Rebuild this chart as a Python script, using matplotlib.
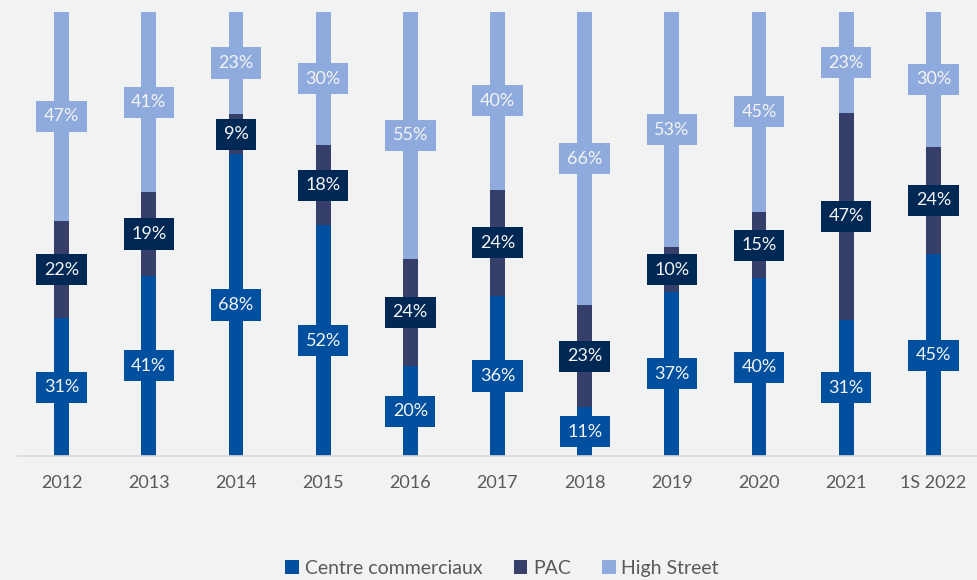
import numpy as np
import matplotlib
matplotlib.use("Agg")
import matplotlib.pyplot as plt

plt.rcParams['font.family'] = ['Lato', 'DejaVu Sans']

# --- data ---
years = ["2012", "2013", "2014", "2015", "2016", "2017", "2018", "2019", "2020", "2021", "1S 2022"]
centre_comm = [31, 41, 68, 52, 20, 36, 11, 37, 40, 31, 45]
pac = [22, 19, 9, 18, 24, 24, 23, 10, 15, 47, 24]
high_street = [47, 41, 23, 30, 55, 40, 66, 53, 45, 23, 30]

series_names = ["Centre commerciaux", "PAC", "High Street"]
bar_colors = ["#00509f", "#353f69", "#8faadc"]
box_colors = ["#00509f", "#002855", "#8faadc"]
bg = "#f2f2f2"

vals = np.array([centre_comm, pac, high_street], dtype=float)
# the bars are 100% stacked
shares = vals / vals.sum(axis=0) * 100

fig = plt.figure(figsize=(9.77, 5.80), dpi=100, facecolor=bg)
ax = fig.add_axes([18 / 977, 1 - 456 / 580, 1 - 18 / 977, (456 - 12) / 580])
ax.set_facecolor(bg)

x = np.arange(len(years))
bottom = np.zeros(len(years))
for i, name in enumerate(series_names):
    ax.bar(x, shares[i], width=0.17, bottom=bottom, color=bar_colors[i], label=name, zorder=2)
    for j in range(len(years)):
        ax.text(x[j], bottom[j] + shares[i][j] / 2, f"{int(vals[i][j])}%",
                ha="center", va="center", fontsize=13, color="#f4f4f4", zorder=3,
                bbox=dict(boxstyle="square,pad=0.42", fc=box_colors[i], ec="none"))
    bottom += shares[i]

ax.set_xlim(-0.5, len(years) - 0.5)
ax.set_ylim(0, 100)
ax.set_yticks([])
ax.set_xticks(x)
ax.set_xticklabels(years, fontsize=13, color="#595959")
ax.tick_params(axis="x", length=0, pad=14)
for s in ["top", "right", "left"]:
    ax.spines[s].set_visible(False)
ax.spines["bottom"].set_color("#d9d9d9")
ax.spines["bottom"].set_linewidth(1.2)

fig.legend(loc="center", bbox_to_anchor=(0.514, 0.02), ncol=3, frameon=False,
           fontsize=14, labelcolor="#595959", handlelength=0.7, handleheight=0.7,
           handletextpad=0.3, columnspacing=1.6, borderpad=0.2)

fig.savefig("out.png", dpi=100, facecolor=bg)
